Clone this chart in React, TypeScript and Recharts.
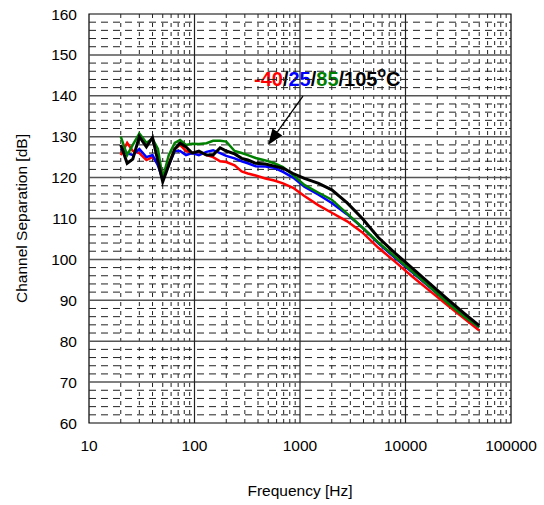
import { LineChart, Line, XAxis, YAxis, ReferenceLine, ReferenceArea } from 'recharts'

// frequency points in Hz
const FREQ = [
  20, 23, 26, 30, 35, 40, 45, 50, 57, 65, 73, 83, 95, 110, 130, 150, 175, 200, 240,
  280, 320, 380, 470, 570, 690, 860, 1100, 1500, 2000, 2800, 3900, 5500, 8000,
  11500, 17000, 25000, 36500, 50000,
]

// channel separation in dB per temperature
const SEP_M40 = [
  125.5, 128.5, 126.5, 126, 124.3, 125, 123.5, 120.5, 123.5, 127, 128, 126.5, 126, 126.3,
  125.5, 125, 124, 123.8, 123, 121.5, 121, 120.5, 119.8, 119.3, 118.6, 117.5, 115.5,
  113.2, 111.4, 109.3, 106.6, 102.9, 99.4, 95.9, 92.3, 88.8, 85.4, 82.6,
]
const SEP_25 = [
  127.2, 126, 125.5, 127, 125, 125.5, 123, 119.5, 123, 126.5, 126.5, 125.5, 126, 125.5,
  126.3, 126.7, 126, 125.3, 124.7, 124, 123.5, 122.8, 122.7, 122.4, 121.4, 120, 117.8,
  115.8, 113.8, 111, 107.8, 104, 100.3, 96.9, 93.2, 89.5, 86, 83.4,
]
const SEP_85 = [
  130, 125.5, 128, 130.8, 128.5, 129.5, 127, 119.8, 125.5, 128.5, 129.2, 128, 128.3, 128.2,
  128.4, 129, 129, 128.8, 126.5, 126, 125.5, 124.8, 124.2, 123.5, 122.6, 120.6, 118.2,
  116.3, 114.6, 111.2, 107.8, 104.2, 100.6, 97.1, 93.3, 89.4, 85.9, 83.4,
]
const SEP_105 = [
  128, 123.5, 124.5, 130, 127.5, 129.8, 124, 119, 123, 127, 128.4, 127.5, 126, 126.5,
  125.5, 125.5, 127.3, 126.5, 125.8, 124.7, 124.3, 123.5, 123.3, 122.8, 122.3, 121,
  119.8, 118.6, 117, 113.8, 110, 105.4, 101.5, 97.9, 94.1, 90.3, 86.7, 83.8,
]

const X_TICKS = [10, 100, 1000, 10000, 100000]
const Y_TICKS = [60, 70, 80, 90, 100, 110, 120, 130, 140, 150, 160]
const MINOR_STEPS = [2, 3, 4, 5, 6, 7, 8, 9]
const MINOR_DB_STEPS = [2, 4, 6, 8]

const FONT = '"Liberation Sans", Arial, sans-serif'

const data = FREQ.map((f, i) => ({
  f,
  m40: SEP_M40[i],
  t25: SEP_25[i],
  t85: SEP_85[i],
  t105: SEP_105[i],
}))

const minorFreq = X_TICKS.slice(0, -1).flatMap((d) => MINOR_STEPS.map((m) => m * d))
const minorDb = Y_TICKS.slice(0, -1).flatMap((d) => MINOR_DB_STEPS.map((m) => d + m))

function AnnotationText(props: any) {
  const vb = props.viewBox || {}
  return (
    <text
      x={vb.x + 8}
      y={vb.y + 28}
      fontFamily={FONT}
      fontWeight="bold"
      fontSize={20}
      fill="#000"
    >
      <tspan fill="#ff0000">-40</tspan>
      <tspan>/</tspan>
      <tspan fill="#0000ff">25</tspan>
      <tspan>/</tspan>
      <tspan fill="#008000">85</tspan>
      <tspan>/105</tspan>
      <tspan fontSize={14} dy={-9}>o</tspan>
      <tspan dy={9}>C</tspan>
    </text>
  )
}

function Arrow(props: any) {
  const { x1, y1, x2, y2 } = props
  const ang = Math.atan2(y2 - y1, x2 - x1)
  const len = 16
  const half = 6
  const bx = x2 - len * Math.cos(ang)
  const by = y2 - len * Math.sin(ang)
  const px = -Math.sin(ang) * half
  const py = Math.cos(ang) * half
  return (
    <g>
      <line x1={x1} y1={y1} x2={bx} y2={by} stroke="#000" strokeWidth={1.3} />
      <polygon points={`${x2},${y2} ${bx + px},${by + py} ${bx - px},${by - py}`} fill="#000" />
    </g>
  )
}

export default function App() {
  return (
    <div style={{ position: 'absolute', left: 0, top: 0, width: 544, height: 505, background: '#fff' }}>
      <LineChart width={544} height={505} data={data} margin={{ top: 14, right: 33, left: 0, bottom: 0 }}>
        <XAxis
          dataKey="f"
          type="number"
          scale="log"
          domain={[10, 100000]}
          ticks={X_TICKS}
          allowDataOverflow
          axisLine={false}
          tickLine={false}
          tickSize={0}
          tickMargin={17}
          height={82}
          tick={{ fill: '#000', fontSize: 15.5, fontFamily: FONT }}
          label={{ value: 'Frequency [Hz]', position: 'insideBottom', offset: 9, fill: '#000', fontSize: 15.5, fontFamily: FONT }}
        />
        <YAxis
          type="number"
          domain={[60, 160]}
          ticks={Y_TICKS}
          allowDataOverflow
          axisLine={false}
          tickLine={false}
          tickSize={0}
          tickMargin={12}
          width={89}
          tick={{ fill: '#000', fontSize: 15.5, fontFamily: FONT }}
          label={{ value: 'Channel Separation [dB]', angle: -90, position: 'center', dx: -23, fill: '#000', fontSize: 15.5, fontFamily: FONT }}
        />
        {minorDb.map((v) => (
          <ReferenceLine key={'hd' + v} y={v} stroke="#222" strokeWidth={1} strokeDasharray="7 5" />
        ))}
        {minorFreq.map((v) => (
          <ReferenceLine key={'vf' + v} x={v} stroke="#222" strokeWidth={1} strokeDasharray="4 5" />
        ))}
        {Y_TICKS.slice(1, -1).map((v) => (
          <ReferenceLine key={'hm' + v} y={v} stroke="#555" strokeWidth={1.5} />
        ))}
        {X_TICKS.slice(1, -1).map((v) => (
          <ReferenceLine key={'vm' + v} x={v} stroke="#222" strokeWidth={1.2} />
        ))}
        <ReferenceArea
          x1={308}
          x2={10100}
          y1={140.3}
          y2={149.2}
          fill="#fff"
          fillOpacity={1}
          stroke="none"
          label={(p: any) => <AnnotationText viewBox={p.viewBox} />}
        />
        <ReferenceLine
          segment={[{ x: 1067, y: 139.9 }, { x: 498, y: 128 }]}
          shape={(p: any) => <Arrow {...p} />}
        />
        <Line type="linear" dataKey="m40" stroke="#ff0000" strokeWidth={2.5} dot={false} isAnimationActive={false} />
        <Line type="linear" dataKey="t25" stroke="#0000ff" strokeWidth={2.5} dot={false} isAnimationActive={false} />
        <Line type="linear" dataKey="t85" stroke="#008000" strokeWidth={2.5} dot={false} isAnimationActive={false} />
        <Line type="linear" dataKey="t105" stroke="#000" strokeWidth={3} dot={false} isAnimationActive={false} />
        <ReferenceArea x1={10} x2={100000} y1={60} y2={160} fill="none" stroke="#000" strokeWidth={1.2} />
      </LineChart>
    </div>
  )
}
